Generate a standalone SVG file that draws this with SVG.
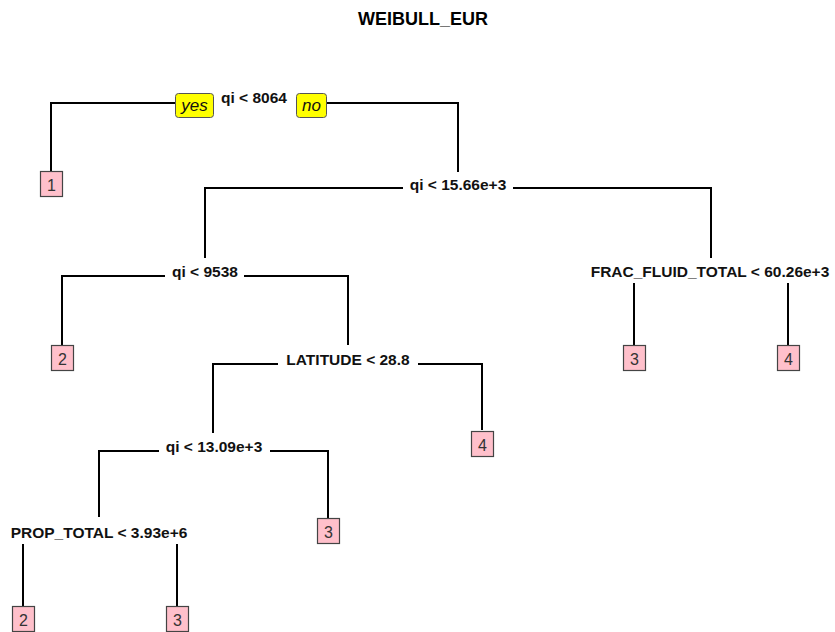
<svg xmlns="http://www.w3.org/2000/svg" width="835" height="632" viewBox="0 0 835 632">
<style>
.lbl{font-family:"Liberation Sans",Arial,sans-serif;font-size:15.5px;font-weight:bold;fill:#111;text-anchor:middle}
.title{font-family:"Liberation Sans",Arial,sans-serif;font-size:18px;font-weight:bold;fill:#000;text-anchor:middle}
.leaf rect{fill:#FFC0CB;stroke:#444;stroke-width:1.2}
.leaf text{font-family:"Liberation Sans",Arial,sans-serif;font-size:16px;fill:#333;text-anchor:middle}
.yn rect{fill:#FFFF00;stroke:#555;stroke-width:1}
.yn text{font-family:"Liberation Sans",Arial,sans-serif;font-size:17px;font-style:italic;fill:#111;text-anchor:middle}
.edges path{fill:none;stroke:#000;stroke-width:2}
</style>
<rect width="835" height="632" fill="#fff"/>
<text class="title" x="423" y="25">WEIBULL_EUR</text>
<g class="edges" id="connectors">
<path d="M175,103 H51 V171"/>
<path d="M326,103 H458 V172"/>
<path d="M403,188 H205 V258"/>
<path d="M513,188 H711 V258"/>
<path d="M165,276 H62 V345"/>
<path d="M244,276 H348 V345"/>
<path d="M278,364 H213 V433"/>
<path d="M418,364 H482 V430"/>
<path d="M159,451 H99 V517"/>
<path d="M270,451 H328 V518"/>
<path d="M23,544 V606"/>
<path d="M177,544 V606"/>
<path d="M634,283 V345"/>
<path d="M788,283 V345"/>
</g>
<g id="yesno" class="yn">
<rect x="175.5" y="93.5" width="38" height="24" rx="3"/>
<text x="194.5" y="111">yes</text>
<rect x="296.5" y="93.5" width="30" height="24" rx="3"/>
<text x="311.5" y="111">no</text>
</g>
<g id="n1"><text class="lbl" x="254" y="103">qi &lt; 8064</text></g>
<g id="n3"><text class="lbl" x="458" y="190">qi &lt; 15.66e+3</text></g>
<g id="n6"><text class="lbl" x="205" y="277">qi &lt; 9538</text></g>
<g id="n7"><text class="lbl" x="710" y="277">FRAC_FLUID_TOTAL &lt; 60.26e+3</text></g>
<g id="n13"><text class="lbl" x="348" y="365">LATITUDE &lt; 28.8</text></g>
<g id="n26"><text class="lbl" x="214" y="452">qi &lt; 13.09e+3</text></g>
<g id="n52"><text class="lbl" x="99" y="538">PROP_TOTAL &lt; 3.93e+6</text></g>
<g id="leaf2" class="leaf"><rect x="40.5" y="171.5" width="22" height="25"/><text x="51.5" y="190.5">1</text></g>
<g id="leaf12" class="leaf"><rect x="51.5" y="345.5" width="22" height="25"/><text x="62.5" y="364.5">2</text></g>
<g id="leaf14" class="leaf"><rect x="623.5" y="345.5" width="22" height="25"/><text x="634.5" y="364.5">3</text></g>
<g id="leaf15" class="leaf"><rect x="777.5" y="345.5" width="22" height="25"/><text x="788.5" y="364.5">4</text></g>
<g id="leaf27" class="leaf"><rect x="471.5" y="431.5" width="22" height="25"/><text x="482.5" y="450.5">4</text></g>
<g id="leaf53" class="leaf"><rect x="317.5" y="518.5" width="22" height="25"/><text x="328.5" y="537.5">3</text></g>
<g id="leaf104" class="leaf"><rect x="12.5" y="606.5" width="22" height="25"/><text x="23.5" y="625.5">2</text></g>
<g id="leaf105" class="leaf"><rect x="166.5" y="606.5" width="22" height="25"/><text x="177.5" y="625.5">3</text></g>
</svg>
